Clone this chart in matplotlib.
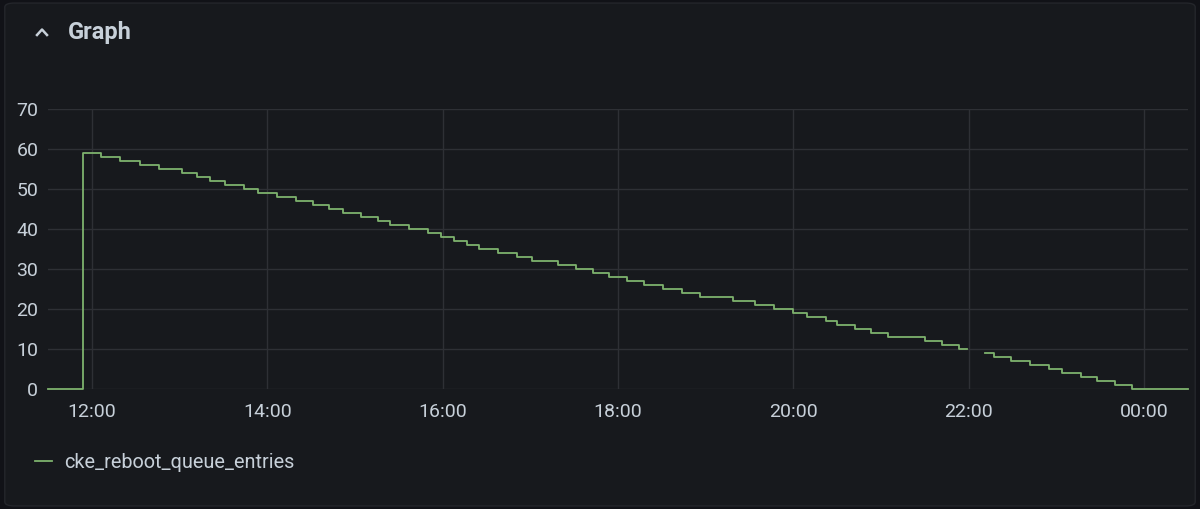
import numpy as np
import pandas as pd
import matplotlib
matplotlib.use("Agg")
import matplotlib.pyplot as plt
import matplotlib.dates as mdates
from matplotlib.patches import FancyBboxPatch
from matplotlib.lines import Line2D

# step series: time at which each value starts (None = gap in data)
times = ["11:30", "11:54", "12:06", "12:19", "12:33", "12:46", "13:02", "13:12",
         "13:21", "13:31", "13:44", "13:54", "14:07", "14:20", "14:31", "14:42",
         "14:52", "15:04", "15:16", "15:24", "15:37", "15:50", "15:59", "16:08",
         "16:17", "16:25", "16:38", "16:51", "17:01", "17:19", "17:31", "17:43",
         "17:54", "18:06", "18:18", "18:31", "18:44", "18:56", "19:19", "19:34",
         "19:47", "20:00", "20:09", "20:22", "20:30", "20:42", "20:53", "21:05",
         "21:30", "21:42", "21:53", "21:59", "22:11", "22:17", "22:29", "22:42",
         "22:55", "23:04", "23:17", "23:28", "23:40", "23:52", "00:30"]
values = [0, 59, 58, 57, 56, 55, 54, 53,
          52, 51, 50, 49, 48, 47, 46, 45,
          44, 43, 42, 41, 40, 39, 38, 37,
          36, 35, 34, 33, 32, 31, 30, 29,
          28, 27, 26, 25, 24, 23, 22, 21,
          20, 19, 18, 17, 16, 15, 14, 13,
          12, 11, 10, None, 9, 8, 7, 6,
          5, 4, 3, 2, 1, 0, 0]
series_name = "cke_reboot_queue_entries"
y_ticks = [0, 10, 20, 30, 40, 50, 60, 70]

# build timestamps (values after midnight belong to the next day)
base = pd.Timestamp("2021-06-01")
ts = []
for t in times:
    h, m = map(int, t.split(":"))
    day = 1 if h < 11 else 0
    ts.append(base + pd.Timedelta(days=day, hours=h, minutes=m))
vals = np.array([np.nan if v is None else v for v in values], dtype=float)

BG = "#17191d"
TEXT = "#c7d0d9"
GRID = "#2e3035"
GREEN = "#7eb26d"

plt.rcParams["font.family"] = ["Roboto", "DejaVu Sans"]

fig = plt.figure(figsize=(12, 5.09), dpi=100)
fig.patch.set_facecolor("#111217")
panel = FancyBboxPatch((0.004, 0.006), 0.992, 0.988,
                       boxstyle="round,pad=0,rounding_size=0.008",
                       transform=fig.transFigure, facecolor=BG,
                       edgecolor="#24262b", linewidth=1.0, zorder=-10)
fig.patches.append(panel)

# header
fig.text(68 / 1200, 1 - 32 / 509, "Graph", color=TEXT, fontsize=17,
         fontweight="bold", va="center", ha="left")
fig.lines.append(Line2D([37 / 1200, 42 / 1200, 47 / 1200],
                        [1 - 35 / 509, 1 - 29.5 / 509, 1 - 35 / 509],
                        transform=fig.transFigure, color=TEXT, linewidth=1.8))

ax = fig.add_axes([48 / 1200, 1 - 389 / 509, 1140 / 1200, 280 / 509])
ax.patch.set_alpha(0)
ax.plot(ts, vals, drawstyle="steps-post", color=GREEN, linewidth=1.3,
        label=series_name, clip_on=False, zorder=3)

ax.set_xlim(ts[0], ts[-1])
ax.set_ylim(0, 70)
ax.set_yticks(y_ticks)
ax.xaxis.set_major_locator(mdates.HourLocator(byhour=range(0, 24, 2)))
ax.xaxis.set_major_formatter(mdates.DateFormatter("%H:%M"))
ax.grid(True, color=GRID, linewidth=1.0)
ax.set_axisbelow(True)
for s in ax.spines.values():
    s.set_visible(False)
ax.tick_params(axis="both", length=0, labelcolor=TEXT, labelsize=14)
ax.tick_params(axis="y", pad=7)
ax.tick_params(axis="x", pad=10)

leg = fig.legend(loc="center left", bbox_to_anchor=(35 / 1200, 1 - 462 / 509),
                 frameon=False, fontsize=14.3, labelcolor=TEXT,
                 handlelength=0.85, handletextpad=0.6, borderpad=0,
                 borderaxespad=0)

fig.savefig("out.png", dpi=100, facecolor=fig.get_facecolor())
